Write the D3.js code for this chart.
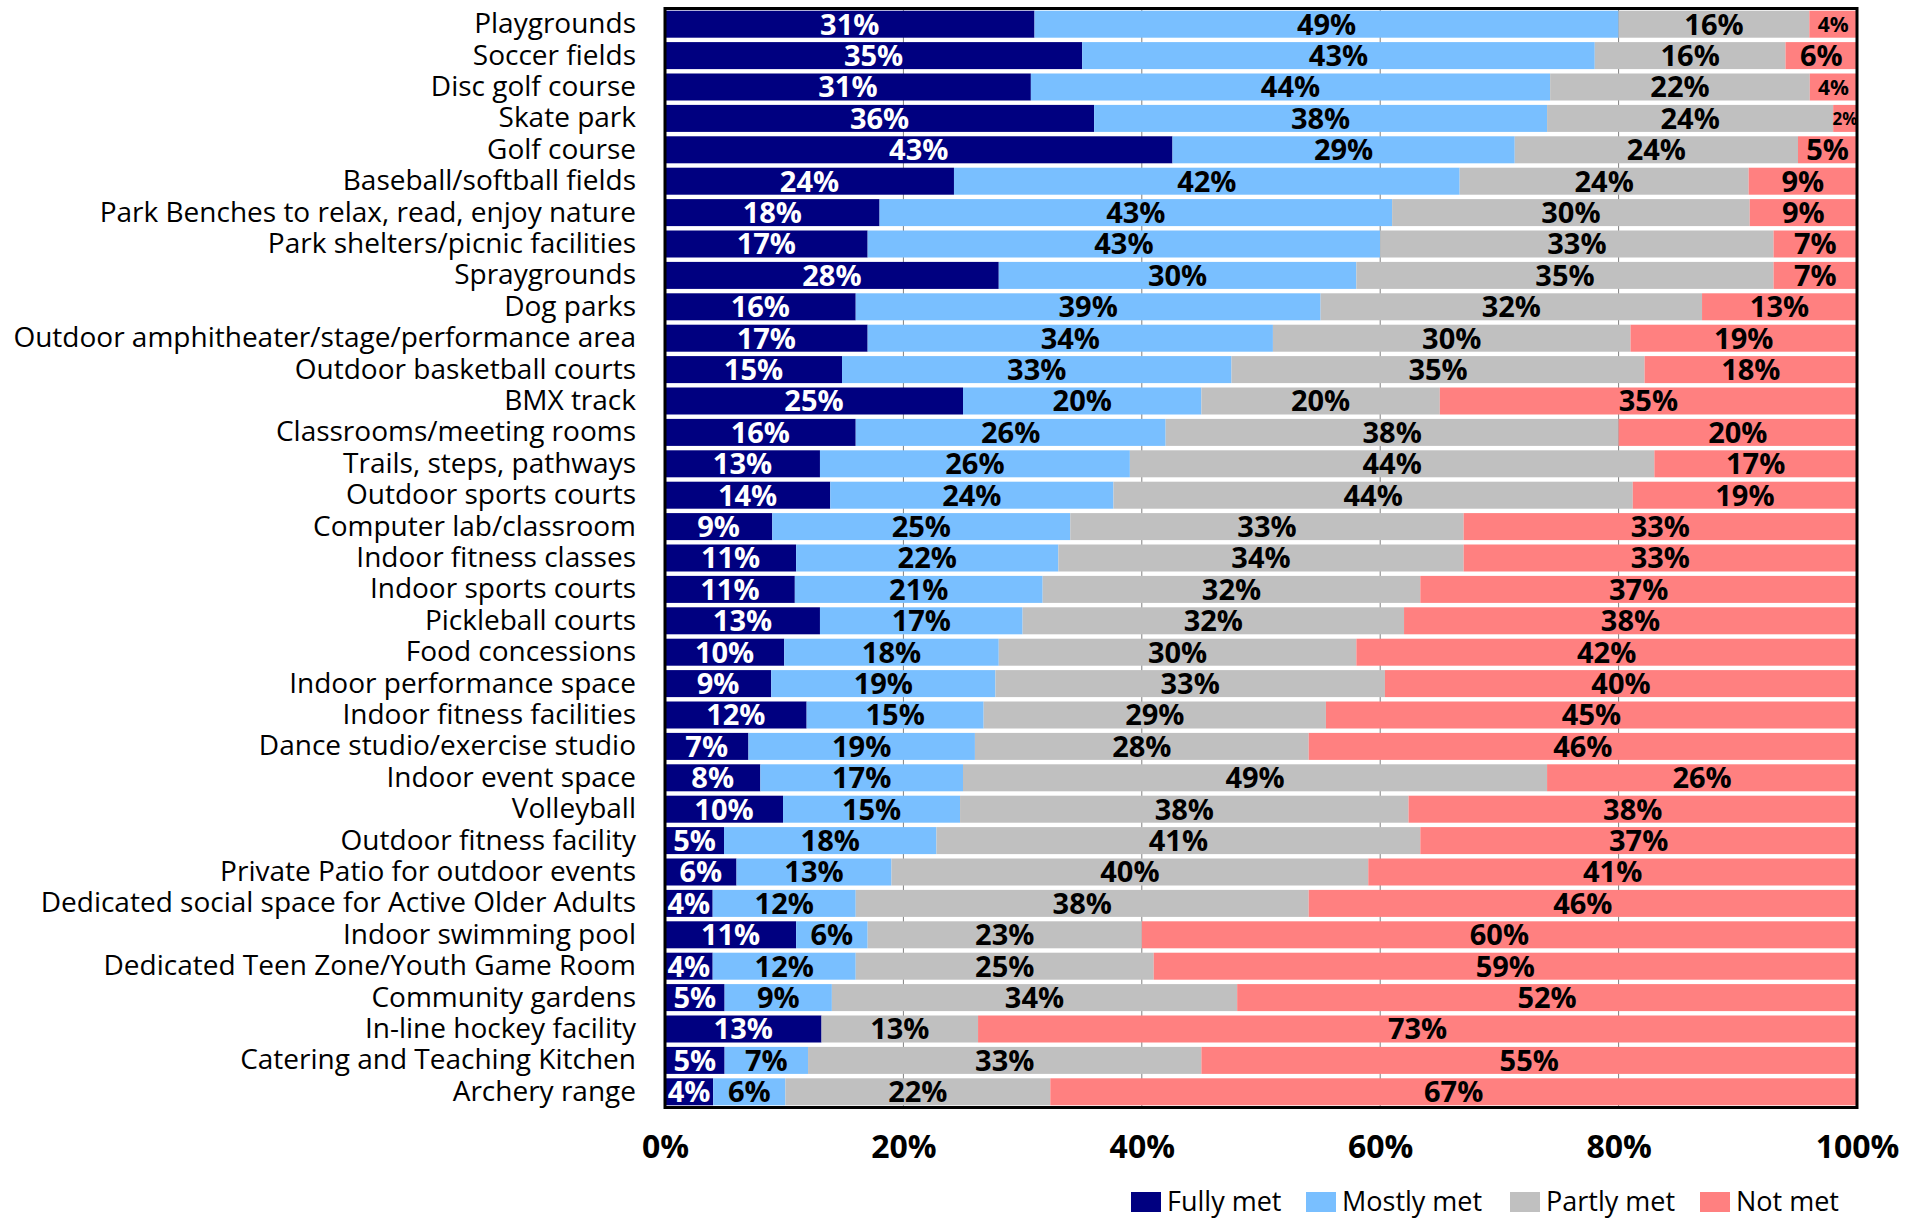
<!DOCTYPE html>
<html>
<head>
<meta charset="utf-8">
<script src="https://cdn.jsdelivr.net/npm/d3@7"></script>
<style>
  body { margin: 0; background: #fff; }
  text { font-family: "Open Sans", sans-serif; }
</style>
</head>
<body>
<script>
// Data (percent of respondents)
var categories = [
  "Playgrounds", "Soccer fields", "Disc golf course", "Skate park", "Golf course",
  "Baseball/softball fields", "Park Benches to relax, read, enjoy nature",
  "Park shelters/picnic facilities", "Spraygrounds", "Dog parks",
  "Outdoor amphitheater/stage/performance area", "Outdoor basketball courts",
  "BMX track", "Classrooms/meeting rooms", "Trails, steps, pathways",
  "Outdoor sports courts", "Computer lab/classroom", "Indoor fitness classes",
  "Indoor sports courts", "Pickleball courts", "Food concessions",
  "Indoor performance space", "Indoor fitness facilities",
  "Dance studio/exercise studio", "Indoor event space", "Volleyball",
  "Outdoor fitness facility", "Private Patio for outdoor events",
  "Dedicated social space for Active Older Adults", "Indoor swimming pool",
  "Dedicated Teen Zone/Youth Game Room", "Community gardens",
  "In-line hockey facility", "Catering and Teaching Kitchen", "Archery range"
];
var fullyMet  = [31, 35, 31, 36, 43, 24, 18, 17, 28, 16, 17, 15, 25, 16, 13, 14, 9, 11, 11, 13, 10, 9, 12, 7, 8, 10, 5, 6, 4, 11, 4, 5, 13, 5, 4];
var mostlyMet = [49, 43, 44, 38, 29, 42, 43, 43, 30, 39, 34, 33, 20, 26, 26, 24, 25, 22, 21, 17, 18, 19, 15, 19, 17, 15, 18, 13, 12, 6, 12, 9, 0, 7, 6];
var partlyMet = [16, 16, 22, 24, 24, 24, 30, 33, 35, 32, 30, 35, 20, 38, 44, 44, 33, 34, 32, 32, 30, 33, 29, 28, 49, 38, 41, 40, 38, 23, 25, 34, 13, 33, 22];
var notMet    = [4, 6, 4, 2, 5, 9, 9, 7, 7, 13, 19, 18, 35, 20, 17, 19, 33, 33, 37, 38, 42, 40, 45, 46, 26, 38, 37, 41, 46, 60, 59, 52, 73, 55, 67];

var seriesNames = ["Fully met", "Mostly met", "Partly met", "Not met"];
var seriesColors = ["#000080", "#79bfff", "#c0c0c0", "#ff8080"];
var labelColors = ["#ffffff", "#000000", "#000000", "#000000"];
var xTicks = [0, 0.2, 0.4, 0.6, 0.8, 1];

var svgWidth = 1919;
var svgHeight = 1218;
var margin = { top: 8.5, right: 62, bottom: 110.5, left: 665 };
var width = svgWidth - margin.left - margin.right;
var height = svgHeight - margin.top - margin.bottom;

var svg = d3.select("body")
  .append("svg")
  .attr("width", svgWidth)
  .attr("height", svgHeight);

var chartGroup = svg.append("g")
  .attr("transform", `translate(${margin.left}, ${margin.top})`);

// rows for the stack
var rows = categories.map(function(c, i) {
  return {
    category: c,
    "Fully met": fullyMet[i],
    "Mostly met": mostlyMet[i],
    "Partly met": partlyMet[i],
    "Not met": notMet[i]
  };
});

var stacked = d3.stack()
  .keys(seriesNames)
  .offset(d3.stackOffsetExpand)(rows);

var xScale = d3.scaleLinear().domain([0, 1]).range([0, width]);
var yScale = d3.scaleBand()
  .domain(categories)
  .range([0, height])
  .paddingInner(0.14)
  .paddingOuter(0.07);

// gridlines behind bars
chartGroup.append("g")
  .selectAll("line")
  .data(xTicks.filter(d => d > 0 && d < 1))
  .enter()
  .append("line")
  .attr("x1", d => xScale(d))
  .attr("x2", d => xScale(d))
  .attr("y1", 0)
  .attr("y2", height)
  .attr("stroke", "#808080")
  .attr("stroke-width", 1);

// bars
var layers = chartGroup.selectAll(".layer")
  .data(stacked)
  .enter()
  .append("g")
  .attr("class", "layer")
  .attr("fill", (d, i) => seriesColors[i]);

layers.selectAll("rect")
  .data(d => d)
  .enter()
  .append("rect")
  .attr("x", d => xScale(d[0]))
  .attr("y", d => yScale(d.data.category))
  .attr("width", d => xScale(d[1]) - xScale(d[0]))
  .attr("height", yScale.bandwidth());

// value labels
layers.each(function(layer, li) {
  d3.select(this).selectAll("text")
    .data(layer.filter(d => d.data[layer.key] > 0))
    .enter()
    .append("text")
    .attr("x", d => xScale((d[0] + d[1]) / 2))
    .attr("y", d => yScale(d.data.category) + yScale.bandwidth() / 2)
    .attr("dy", "0.36em")
    .attr("text-anchor", "middle")
    .attr("fill", labelColors[li])
    .style("font-weight", "bold")
    .style("font-size", function(d) {
      var v = d.data[layer.key];
      if (layer.key === "Not met" && v <= 2) return "17px";
      if (layer.key === "Not met" && v <= 4) return "21px";
      return "29px";
    })
    .text(d => d.data[layer.key] + "%");
});

// plot frame
chartGroup.append("rect")
  .attr("x", 0)
  .attr("y", 0)
  .attr("width", width)
  .attr("height", height)
  .attr("fill", "none")
  .attr("stroke", "#000")
  .attr("stroke-width", 3);

// axes
var leftAxis = d3.axisLeft(yScale).tickSize(0).tickPadding(29);
var leftG = chartGroup.append("g").call(leftAxis);
leftG.select(".domain").remove();
leftG.selectAll("text")
  .style("font-size", "28px")
  .style("font-family", "'Open Sans', sans-serif")
  .attr("fill", "#000");

var bottomAxis = d3.axisBottom(xScale)
  .tickValues(xTicks)
  .tickFormat(d3.format(".0%"))
  .tickSize(0);
var bottomG = chartGroup.append("g")
  .attr("transform", `translate(0, ${height})`)
  .call(bottomAxis);
bottomG.select(".domain").remove();
bottomG.selectAll("text")
  .attr("y", 28)
  .style("font-size", "32px")
  .style("font-weight", "bold")
  .style("font-family", "'Open Sans', sans-serif")
  .attr("fill", "#000");

// legend
var legendX = [1131, 1306, 1510, 1700];
var legend = svg.append("g")
  .attr("transform", "translate(0, 1192)");
seriesNames.forEach(function(name, i) {
  var item = legend.append("g").attr("transform", `translate(${legendX[i]}, 0)`);
  item.append("rect")
    .attr("width", 30)
    .attr("height", 20)
    .attr("fill", seriesColors[i]);
  item.append("text")
    .attr("x", 36)
    .attr("y", 19)
    .style("font-size", "27px")
    .text(name);
});
</script>
</body>
</html>
